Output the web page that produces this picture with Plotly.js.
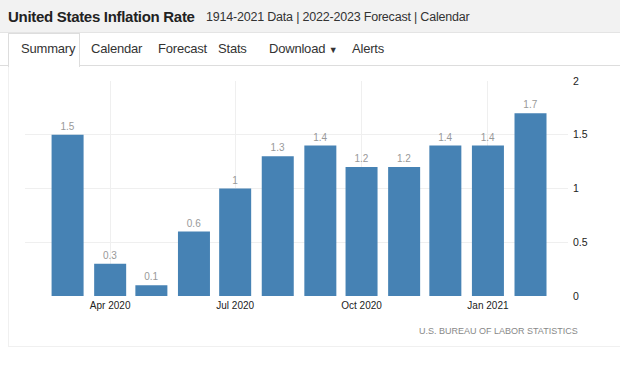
<!DOCTYPE html>
<html>
<head>
<meta charset="utf-8">
<script src="https://cdn.plot.ly/plotly-3.0.1.min.js"></script>
<style>
  html, body { margin: 0; padding: 0; background: #fff; }
  body { width: 620px; height: 367px; position: relative; overflow: hidden; font-family: "Liberation Sans", Arial, sans-serif; }
  #hdr { position: absolute; left: 0; top: 0; width: 620px; height: 32px; background: #f2f2f2; border-bottom: 1px solid #e4e4e4; }
  #hdr .t { position: absolute; left: 8px; top: 8px; font-size: 15px; font-weight: bold; color: #222; letter-spacing: -0.3px; }
  #hdr .s { position: absolute; left: 206px; top: 10px; font-size: 12.5px; color: #333; letter-spacing: -0.2px; }
  #tabline { position: absolute; left: 0; top: 65px; width: 620px; height: 1px; background: #ddd; }
  #tabsum { position: absolute; left: 8px; top: 33px; width: 70px; height: 33px; background: #fff; border: 1px solid #ddd; border-bottom: none; }
  .tab { position: absolute; top: 41px; font-size: 13px; color: #333; letter-spacing: -0.2px; }
  #panel { position: absolute; left: 8px; top: 66px; width: 620px; height: 280px; border-left: 1px solid #f0f0f0; border-bottom: 1px solid #f0f0f0; }
  #chart { position: absolute; left: 0; top: 0; width: 620px; height: 367px; }
</style>
</head>
<body>
<div id="hdr"><span class="t">United States Inflation Rate</span><span class="s">1914-2021 Data | 2022-2023 Forecast | Calendar</span></div>
<div id="panel"></div>
<div id="tabline"></div>
<div id="tabsum"></div>
<span class="tab" style="left:21px">Summary</span>
<span class="tab" style="left:91px">Calendar</span>
<span class="tab" style="left:158px">Forecast</span>
<span class="tab" style="left:218px">Stats</span>
<span class="tab" style="left:269px">Download <span style="font-size:9px">&#9660;</span></span>
<span class="tab" style="left:352px">Alerts</span>
<div id="chart"></div>
<script>
const months = ["2020-03-01","2020-04-01","2020-05-01","2020-06-01","2020-07-01","2020-08-01",
                "2020-09-01","2020-10-01","2020-11-01","2020-12-01","2021-01-01","2021-02-01"];
const inflation = [1.5, 0.3, 0.1, 0.6, 1.0, 1.3, 1.4, 1.2, 1.2, 1.4, 1.4, 1.7];
const valueLabels = ["1.5","0.3","0.1","0.6","1","1.3","1.4","1.2","1.2","1.4","1.4","1.7"];
const xTickVals = ["2020-04-01","2020-07-01","2020-10-01","2021-01-01"];
const xTickText = ["Apr 2020","Jul 2020","Oct 2020","Jan 2021"];
const yTickVals = [0, 0.5, 1, 1.5, 2];
const yTickText = ["0","0.5","1","1.5","2"];
const sourceText = "U.S. BUREAU OF LABOR STATISTICS";

const DAY = 86400000;
const trace = {
  type: "bar",
  x: months,
  y: inflation,
  text: valueLabels,
  textposition: "outside",
  cliponaxis: false,
  textfont: { family: "Liberation Sans, Arial, sans-serif", size: 10, color: "#999" },
  marker: { color: "#4682B4", line: { width: 0 } },
  width: months.map(() => 23.3 * DAY),
  hoverinfo: "none"
};

const layout = {
  width: 620, height: 367,
  margin: { l: 25, r: 52, t: 81, b: 71 },
  paper_bgcolor: "rgba(0,0,0,0)",
  plot_bgcolor: "rgba(0,0,0,0)",
  showlegend: false,
  font: { family: "Liberation Sans, Arial, sans-serif", size: 10, color: "#333" },
  xaxis: {
    type: "date",
    range: ["2020-01-30", "2021-02-28 07:00"],
    tickvals: xTickVals, ticktext: xTickText,
    showgrid: true, gridcolor: "#efefef", gridwidth: 1,
    zeroline: false, showline: false, ticks: "",
    ticklabelstandoff: 2,
    tickfont: { size: 10, color: "#222" },
    fixedrange: true
  },
  yaxis: {
    side: "right",
    range: [0, 2],
    tickvals: yTickVals, ticktext: yTickText,
    showgrid: true, gridcolor: "#efefef", gridwidth: 1,
    zeroline: false, showline: false, ticks: "",
    ticklabelstandoff: 4,
    tickfont: { size: 10.5, color: "#222" },
    fixedrange: true
  },
  annotations: [{
    text: sourceText, xref: "paper", yref: "paper",
    x: 1.022, y: -0.163, xanchor: "right", yanchor: "middle",
    showarrow: false,
    font: { family: "Liberation Sans, Arial, sans-serif", size: 9, color: "#888" }
  }]
};

Plotly.newPlot("chart", [trace], layout, { displayModeBar: false, staticPlot: true });
</script>
</body>
</html>
